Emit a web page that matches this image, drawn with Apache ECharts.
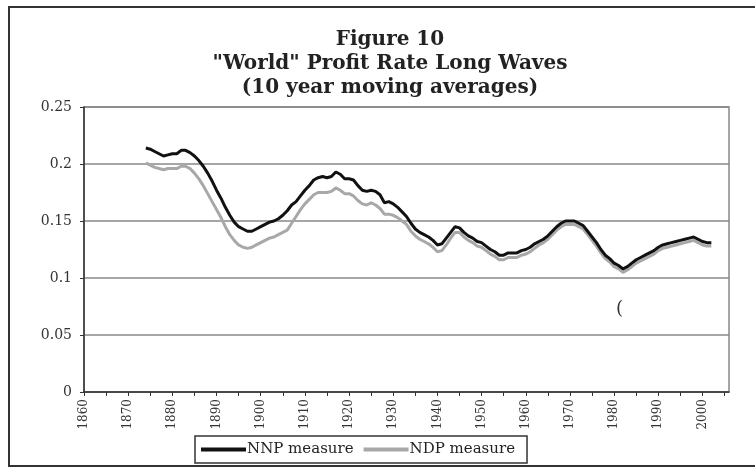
<!DOCTYPE html>
<html lang="en">
<head>
    <meta charset="UTF-8">
    <title>World Profit Rate Long Waves</title>
    <script src="https://cdn.jsdelivr.net/npm/echarts@6/dist/echarts.min.js"></script>
    <style>
        html, body { margin: 0; padding: 0; background: #fff; }
        #chart { width: 755px; height: 469px; }
    </style>
</head>
<body>
<div id="chart"></div>
<script>
// x axis runs 1860..2006, series start in 1874
var firstYear = 1860;
var lastYear = 2006;
var dataStart = 1874;

// NNP measure, 1874..2002
var nnp = [
    0.214, 0.213, 0.211, 0.209, 0.207, 0.208, 0.209, 0.209, 0.212, 0.212,
    0.210, 0.207, 0.203, 0.198, 0.192, 0.185, 0.177, 0.170, 0.162, 0.155,
    0.149, 0.145, 0.143, 0.141, 0.141, 0.143, 0.145, 0.147, 0.149, 0.150,
    0.152, 0.155, 0.159, 0.164, 0.167, 0.172, 0.177, 0.181, 0.186, 0.188,
    0.189, 0.188, 0.189, 0.193, 0.191, 0.187, 0.187, 0.186, 0.181, 0.177,
    0.176, 0.177, 0.176, 0.173, 0.166, 0.167, 0.165, 0.162, 0.158, 0.154,
    0.148, 0.143, 0.140, 0.138, 0.136, 0.133, 0.129, 0.130, 0.135, 0.140,
    0.145, 0.144, 0.140, 0.137, 0.135, 0.132, 0.131, 0.128, 0.125, 0.123,
    0.120, 0.120, 0.122, 0.122, 0.122, 0.124, 0.125, 0.127, 0.130, 0.132,
    0.134, 0.137, 0.141, 0.145, 0.148, 0.150, 0.150, 0.150, 0.148, 0.146,
    0.141, 0.136, 0.131, 0.125, 0.120, 0.117, 0.113, 0.111, 0.108, 0.110,
    0.113, 0.116, 0.118, 0.120, 0.122, 0.124, 0.127, 0.129, 0.130, 0.131,
    0.132, 0.133, 0.134, 0.135, 0.136, 0.134, 0.132, 0.131, 0.131
];

// NDP measure, 1874..2002
var ndp = [
    0.201, 0.199, 0.197, 0.196, 0.195, 0.196, 0.196, 0.196, 0.198, 0.198,
    0.196, 0.192, 0.187, 0.181, 0.174, 0.167, 0.160, 0.153, 0.145, 0.138,
    0.133, 0.129, 0.127, 0.126, 0.127, 0.129, 0.131, 0.133, 0.135, 0.136,
    0.138, 0.140, 0.142, 0.148, 0.154, 0.160, 0.165, 0.169, 0.173, 0.175,
    0.175, 0.175, 0.176, 0.179, 0.177, 0.174, 0.174, 0.172, 0.168, 0.165,
    0.164, 0.166, 0.164, 0.161, 0.156, 0.156, 0.155, 0.153, 0.150, 0.147,
    0.141, 0.137, 0.134, 0.132, 0.130, 0.127, 0.123, 0.124, 0.129, 0.135,
    0.140, 0.140, 0.136, 0.133, 0.131, 0.128, 0.127, 0.124, 0.121, 0.119,
    0.116, 0.116, 0.118, 0.118, 0.118, 0.120, 0.121, 0.123, 0.126, 0.129,
    0.131, 0.134, 0.138, 0.142, 0.145, 0.147, 0.147, 0.147, 0.145, 0.143,
    0.138, 0.133, 0.128, 0.122, 0.117, 0.114, 0.110, 0.108, 0.105, 0.107,
    0.110, 0.113, 0.115, 0.117, 0.119, 0.121, 0.124, 0.126, 0.127, 0.128,
    0.129, 0.130, 0.131, 0.132, 0.133, 0.131, 0.129, 0.128, 0.128
];

var yTicks = [0, 0.05, 0.1, 0.15, 0.2, 0.25];

var years = [];
for (var y = firstYear; y <= lastYear; y++) years.push(String(y));

// pad series so they line up with the year axis
function pad(arr) {
    var out = [];
    for (var y = firstYear; y <= lastYear; y++) {
        var i = y - dataStart;
        out.push(i >= 0 && i < arr.length ? arr[i] : null);
    }
    return out;
}

var serif = 'DejaVu Serif';
var myChart = echarts.init(document.getElementById('chart'));

var option = {
    animation: false,
    backgroundColor: '#fff',
    title: {
        text: 'Figure 10\n"World" Profit Rate Long Waves\n(10 year moving averages)',
        left: 385,
        top: 23,
        textAlign: 'center',
        textStyle: {
            fontFamily: serif,
            fontWeight: 'bold',
            fontSize: 20,
            lineHeight: 24,
            color: '#222'
        }
    },
    legend: {
        bottom: 6,
        left: 195,
        width: 333,
        padding: [6, 12, 6, 6],
        borderColor: '#333',
        borderWidth: 1.5,
        itemWidth: 45,
        itemHeight: 4,
        itemGap: 10,
        icon: 'rect',
        textStyle: { fontFamily: serif, fontSize: 15, color: '#222', padding: [0, 0, 0, -4] },
        data: ['NNP measure', 'NDP measure']
    },
    grid: {
        left: 84,
        right: 26,
        top: 107,
        bottom: 77,
        show: true,
        borderColor: '#888',
        borderWidth: 1.5
    },
    xAxis: {
        type: 'category',
        boundaryGap: false,
        data: years,
        axisLine: { lineStyle: { color: '#333', width: 1.5 } },
        axisTick: { interval: 4, length: 4, lineStyle: { color: '#333' } },
        axisLabel: {
            interval: 9,
            rotate: 90,
            margin: 7,
            fontFamily: serif,
            fontSize: 12,
            color: '#333'
        },
        splitLine: { show: false }
    },
    yAxis: {
        type: 'value',
        min: yTicks[0],
        max: yTicks[yTicks.length - 1],
        interval: 0.05,
        axisLine: { show: true, lineStyle: { color: '#333', width: 1.5 } },
        axisTick: { show: true, length: 4, lineStyle: { color: '#333' } },
        axisLabel: { fontFamily: serif, fontSize: 14, color: '#333', margin: 12 },
        splitLine: { lineStyle: { color: '#888', width: 1.5 } }
    },
    series: [
        {
            name: 'NDP measure',
            type: 'line',
            data: pad(ndp),
            showSymbol: false,
            lineStyle: { color: '#a8a8a8', width: 3 },
            itemStyle: { color: '#a8a8a8' },
            z: 2
        },
        {
            name: 'NNP measure',
            type: 'line',
            data: pad(nnp),
            showSymbol: false,
            lineStyle: { color: '#111', width: 3 },
            itemStyle: { color: '#111' },
            z: 3
        }
    ],
    graphic: [
        {
            type: 'rect',
            shape: { x: 9, y: 7, width: 760, height: 459 },
            style: { fill: null, stroke: '#333', lineWidth: 2 },
            silent: true
        },
        {
            type: 'text',
            left: 616,
            top: 300,
            style: { text: '(', fontFamily: serif, fontSize: 18, fill: '#333' },
            silent: true
        }
    ]
};
myChart.setOption(option);
</script>
</body>
</html>
